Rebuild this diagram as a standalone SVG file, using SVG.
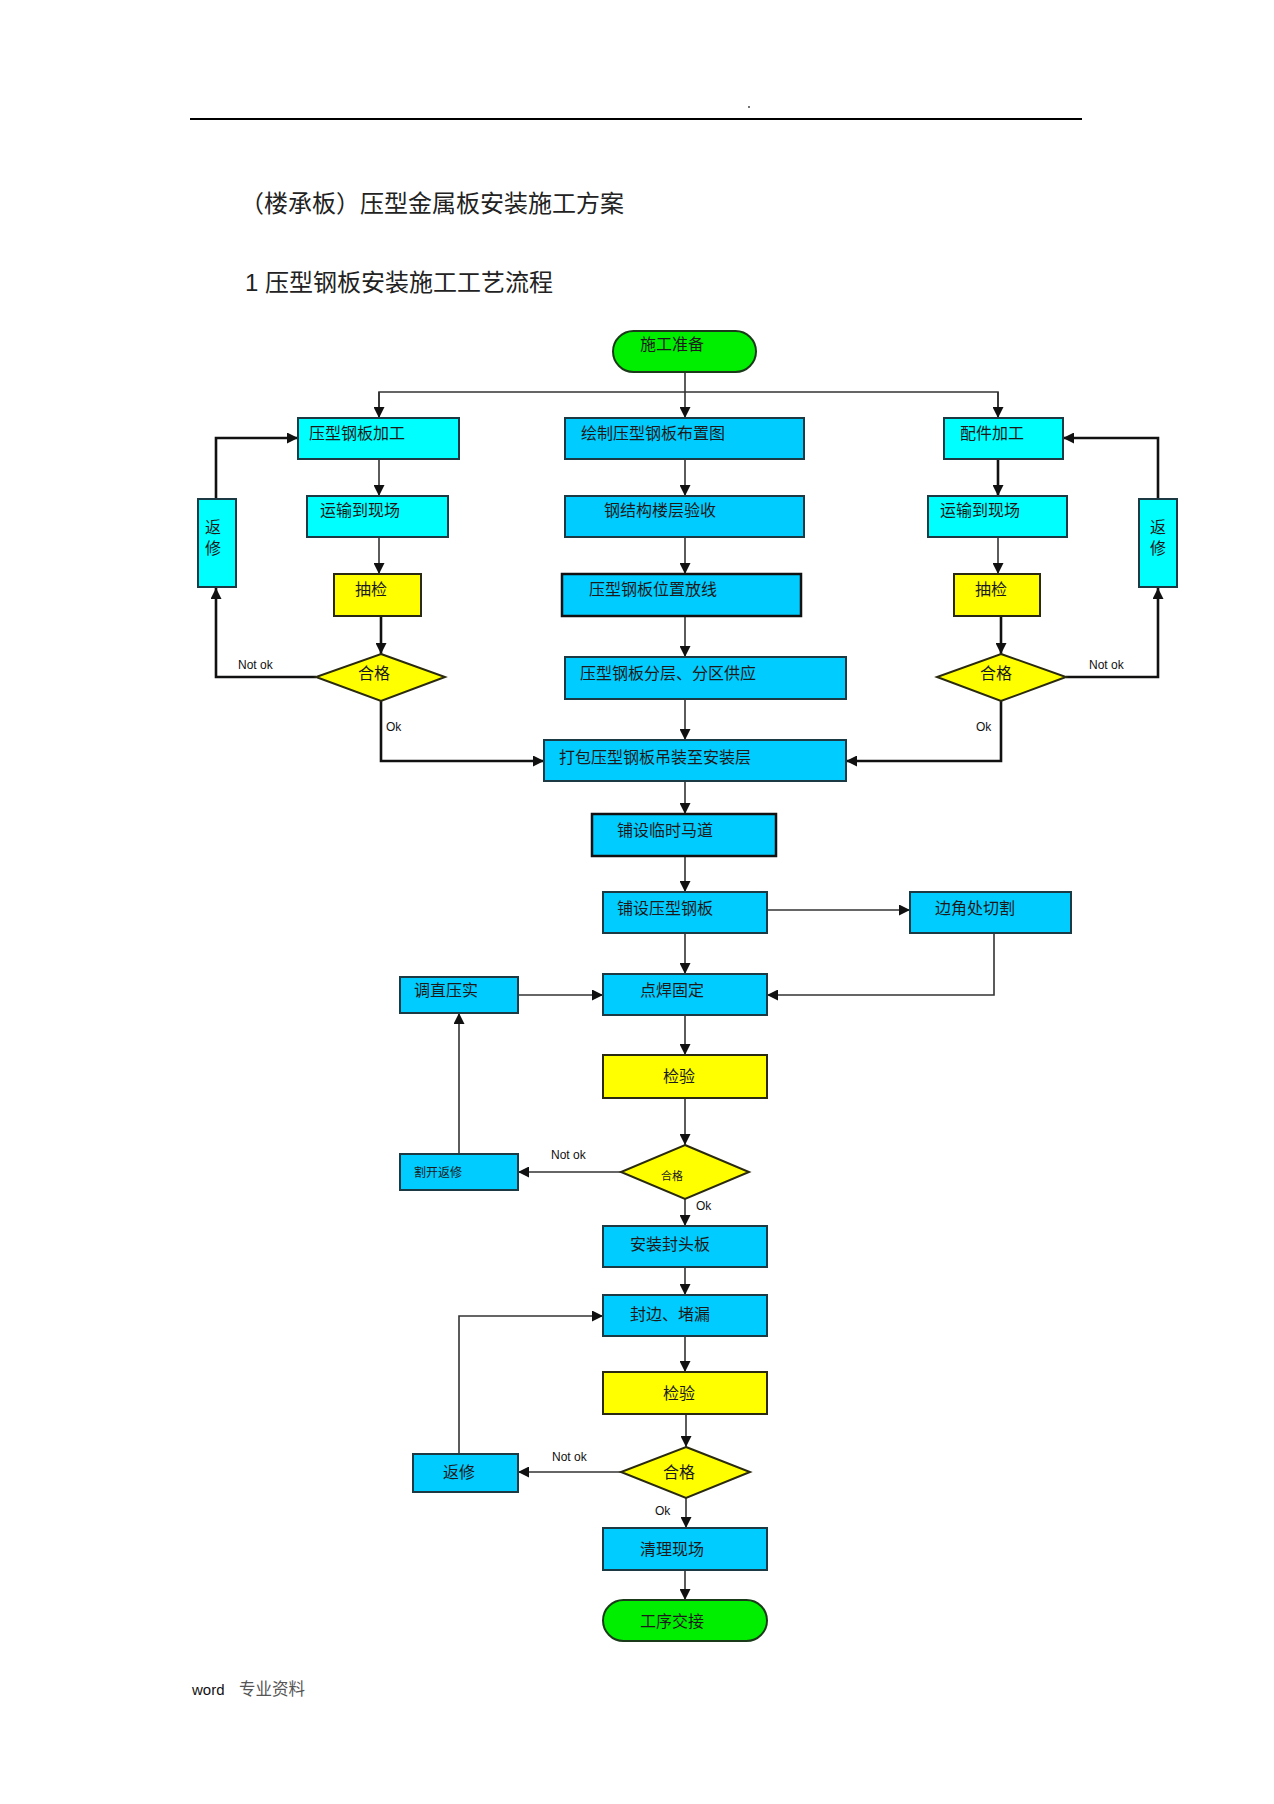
<svg xmlns="http://www.w3.org/2000/svg" width="1274" height="1804" viewBox="0 0 1274 1804">
<style>
.cn{font-family:"Noto Sans CJK SC","Liberation Serif",serif;fill:#1a1a1a;font-size:16px}
.en{font-family:"Liberation Sans",Arial,sans-serif;fill:#111;font-size:12px}
.cy{fill:#00FFFF;stroke:#1c3a44;stroke-width:2}
.bl{fill:#00CCFF;stroke:#1c3a44;stroke-width:2}
.ye{fill:#FFFF00;stroke:#2a2a10;stroke-width:2}
.gr{fill:#00EE00;stroke:#1a3a1a;stroke-width:2}
.ln{fill:none;stroke:#333;stroke-width:1.6}
.lt{fill:none;stroke:#111;stroke-width:2.6}
</style>
<defs>
<marker id="ar" viewBox="0 0 10 10" refX="10" refY="5" markerWidth="11" markerHeight="11" markerUnits="userSpaceOnUse" orient="auto">
<path d="M0,0 L10,5 L0,10 z" fill="#111"/>
</marker>
</defs>
<rect width="1274" height="1804" fill="#fff"/>
<g id="header">
<line x1="190" y1="119" x2="1082" y2="119" stroke="#000" stroke-width="2"/>
<circle cx="749" cy="107" r="0.9" fill="#333"/>
<text x="240" y="212" font-family="Noto Sans CJK SC, sans-serif" font-size="24" fill="#222">（楼承板）压型金属板安装施工方案</text>
<text x="245" y="291" font-family="Liberation Sans, Noto Sans CJK SC, sans-serif" font-size="24" fill="#222">1 <tspan font-family="Noto Sans CJK SC, sans-serif">压型钢板安装施工工艺流程</tspan></text>
</g>
<g id="connectors">
<path class="ln" d="M685,372 V418" marker-end="url(#ar)"/>
<path class="ln" d="M379,418 V392 H998 V418" />
<path class="ln" d="M379,392 V418" marker-end="url(#ar)"/>
<path class="ln" d="M998,392 V418" marker-end="url(#ar)"/>
<path class="ln" d="M379,459 V496" marker-end="url(#ar)"/>
<path class="ln" d="M379,537 V574" marker-end="url(#ar)"/>
<path class="lt" d="M381,616 V654" marker-end="url(#ar)"/>
<path class="lt" d="M316,677 H216 V588" marker-end="url(#ar)"/>
<path class="lt" d="M216,499 V438 H298" marker-end="url(#ar)"/>
<path class="lt" d="M381,701 V761 H544" marker-end="url(#ar)"/>
<path class="ln" d="M685,459 V496" marker-end="url(#ar)"/>
<path class="ln" d="M685,537 V574" marker-end="url(#ar)"/>
<path class="ln" d="M685,616 V657" marker-end="url(#ar)"/>
<path class="ln" d="M685,699 V740" marker-end="url(#ar)"/>
<path class="lt" d="M998,459 V496" marker-end="url(#ar)"/>
<path class="ln" d="M998,537 V574" marker-end="url(#ar)"/>
<path class="lt" d="M1001,616 V654" marker-end="url(#ar)"/>
<path class="lt" d="M1066,677 H1158 V588" marker-end="url(#ar)"/>
<path class="lt" d="M1158,499 V438 H1063" marker-end="url(#ar)"/>
<path class="lt" d="M1001,701 V761 H846" marker-end="url(#ar)"/>
<path class="ln" d="M685,781 V814" marker-end="url(#ar)"/>
<path class="ln" d="M685,856 V892" marker-end="url(#ar)"/>
<path class="ln" d="M767,910 H910" marker-end="url(#ar)"/>
<path class="ln" d="M685,933 V974" marker-end="url(#ar)"/>
<path class="ln" d="M994,933 V995 H767" marker-end="url(#ar)"/>
<path class="ln" d="M518,995 H603" marker-end="url(#ar)"/>
<path class="ln" d="M685,1015 V1055" marker-end="url(#ar)"/>
<path class="ln" d="M685,1098 V1145" marker-end="url(#ar)"/>
<path class="ln" d="M621,1172 H518" marker-end="url(#ar)"/>
<path class="ln" d="M459,1154 V1013" marker-end="url(#ar)"/>
<path class="ln" d="M685,1199 V1226" marker-end="url(#ar)"/>
<path class="ln" d="M685,1267 V1295" marker-end="url(#ar)"/>
<path class="ln" d="M685,1336 V1372" marker-end="url(#ar)"/>
<path class="ln" d="M686,1414 V1447" marker-end="url(#ar)"/>
<path class="ln" d="M621,1472 H518" marker-end="url(#ar)"/>
<path class="ln" d="M459,1454 V1316 H603" marker-end="url(#ar)"/>
<path class="ln" d="M686,1498 V1528" marker-end="url(#ar)"/>
<path class="ln" d="M685,1570 V1600" marker-end="url(#ar)"/>
<text class="en" x="238" y="669">Not ok</text>
<text class="en" x="386" y="731">Ok</text>
<text class="en" x="1089" y="669">Not ok</text>
<text class="en" x="976" y="731">Ok</text>
<text class="en" x="551" y="1159">Not ok</text>
<text class="en" x="696" y="1210">Ok</text>
<text class="en" x="552" y="1461">Not ok</text>
<text class="en" x="655" y="1515">Ok</text>
</g>
<g id="n_start"><rect class="gr" x="613" y="331" width="143" height="41" rx="20.5"/><text class="cn" x="640" y="350">施工准备</text></g>
<g id="n_l1"><rect class="cy" x="298" y="418" width="161" height="41"/><text class="cn" x="309" y="439">压型钢板加工</text></g>
<g id="n_c1"><rect class="bl" x="565" y="418" width="239" height="41"/><text class="cn" x="581" y="439">绘制压型钢板布置图</text></g>
<g id="n_r1"><rect class="cy" x="944" y="418" width="119" height="41"/><text class="cn" x="960" y="439">配件加工</text></g>
<g id="n_l2"><rect class="cy" x="307" y="496" width="141" height="41"/><text class="cn" x="320" y="516">运输到现场</text></g>
<g id="n_c2"><rect class="bl" x="565" y="496" width="239" height="41"/><text class="cn" x="604" y="516">钢结构楼层验收</text></g>
<g id="n_r2"><rect class="cy" x="928" y="496" width="139" height="41"/><text class="cn" x="940" y="516">运输到现场</text></g>
<g id="n_l3"><rect class="ye" x="334" y="574" width="87" height="42"/><text class="cn" x="355" y="595">抽检</text></g>
<g id="n_c3"><rect class="bl" x="562" y="574" width="239" height="42" style="stroke:#111;stroke-width:2.5"/><text class="cn" x="589" y="595">压型钢板位置放线</text></g>
<g id="n_r3"><rect class="ye" x="954" y="574" width="86" height="42"/><text class="cn" x="975" y="595">抽检</text></g>
<g id="n_lrep"><rect class="cy" x="198" y="499" width="38" height="88"/><text class="cn" x="205" y="533">返</text><text class="cn" x="205" y="554">修</text></g>
<g id="n_rrep"><rect class="cy" x="1139" y="499" width="38" height="88"/><text class="cn" x="1150" y="533">返</text><text class="cn" x="1150" y="554">修</text></g>
<g id="n_ld"><polygon class="ye" points="381,654 445,677 381,701 316,677"/><text class="cn" x="358" y="679">合格</text></g>
<g id="n_c4"><rect class="bl" x="565" y="657" width="281" height="42"/><text class="cn" x="580" y="679">压型钢板分层、分区供应</text></g>
<g id="n_rd"><polygon class="ye" points="1001,654 1066,677 1001,701 937,677"/><text class="cn" x="980" y="679">合格</text></g>
<g id="n_c5"><rect class="bl" x="544" y="740" width="302" height="41"/><text class="cn" x="559" y="763">打包压型钢板吊装至安装层</text></g>
<g id="n_c6"><rect class="bl" x="592" y="814" width="184" height="42" style="stroke:#111;stroke-width:2.5"/><text class="cn" x="617" y="836">铺设临时马道</text></g>
<g id="n_c7"><rect class="bl" x="603" y="892" width="164" height="41"/><text class="cn" x="617" y="914">铺设压型钢板</text></g>
<g id="n_cut"><rect class="bl" x="910" y="892" width="161" height="41"/><text class="cn" x="935" y="914">边角处切割</text></g>
<g id="n_c8"><rect class="bl" x="603" y="974" width="164" height="41"/><text class="cn" x="640" y="996">点焊固定</text></g>
<g id="n_adj"><rect class="bl" x="400" y="977" width="118" height="36"/><text class="cn" x="414" y="996">调直压实</text></g>
<g id="n_chk1"><rect class="ye" x="603" y="1055" width="164" height="43"/><text class="cn" x="663" y="1082">检验</text></g>
<g id="n_d2"><polygon class="ye" points="685,1145 749,1172 685,1199 621,1172"/><text class="cn" x="661" y="1180" style="font-size:11px">合格</text></g>
<g id="n_cutrep"><rect class="bl" x="400" y="1154" width="118" height="36"/><text class="cn" x="414" y="1177" style="font-size:12px">割开返修</text></g>
<g id="n_c9"><rect class="bl" x="603" y="1226" width="164" height="41"/><text class="cn" x="630" y="1250">安装封头板</text></g>
<g id="n_c10"><rect class="bl" x="603" y="1295" width="164" height="41"/><text class="cn" x="630" y="1320">封边、堵漏</text></g>
<g id="n_chk2"><rect class="ye" x="603" y="1372" width="164" height="42"/><text class="cn" x="663" y="1399">检验</text></g>
<g id="n_d3"><polygon class="ye" points="686,1447 750,1472 686,1498 621,1472"/><text class="cn" x="663" y="1478">合格</text></g>
<g id="n_rep"><rect class="bl" x="413" y="1454" width="105" height="38"/><text class="cn" x="443" y="1478">返修</text></g>
<g id="n_c11"><rect class="bl" x="603" y="1528" width="164" height="42"/><text class="cn" x="640" y="1555">清理现场</text></g>
<g id="n_end"><rect class="gr" x="603" y="1600" width="164" height="41" rx="20.5"/><text class="cn" x="640" y="1627">工序交接</text></g>
<g id="footer">
<text x="192" y="1695" font-family="Liberation Sans, sans-serif" font-size="15" fill="#111">word</text>
<text x="239" y="1695" font-family="Noto Sans CJK SC, sans-serif" font-size="16.5" fill="#555">专业资料</text>
</g>
</svg>
